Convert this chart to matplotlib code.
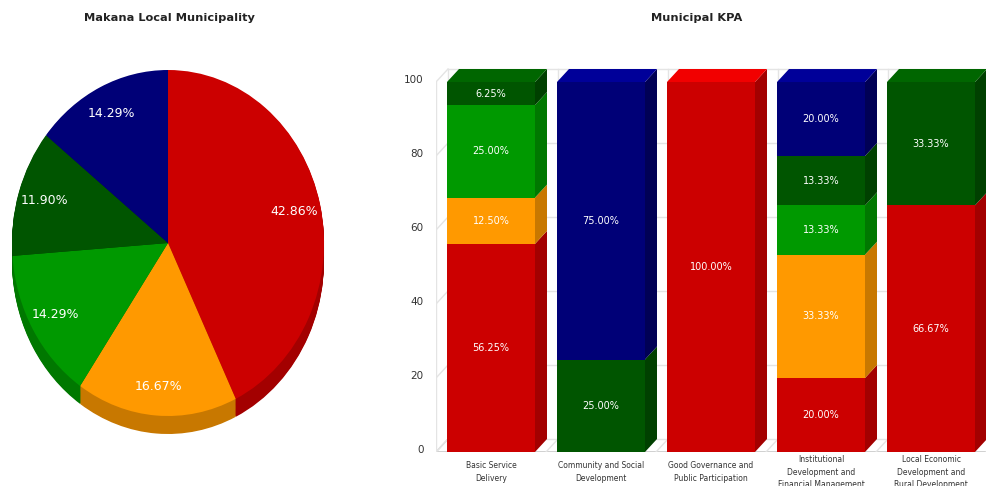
import numpy as np
import matplotlib
matplotlib.use("Agg")
import matplotlib.pyplot as plt
import matplotlib.transforms as mtransforms
from matplotlib.patches import Polygon

plt.rcParams['font.family'] = ['DejaVu Sans']

## pie: overall KPA status for Makana
pie_values = [42.86, 16.67, 14.29, 11.90, 14.29]

## stacked bars: status share per KPA (bottom -> top)
kpa_names = ["Basic Service\nDelivery",
             "Community and Social\nDevelopment",
             "Good Governance and\nPublic Participation",
             "Institutional\nDevelopment and\nFinancial Management",
             "Local Economic\nDevelopment and\nRural Development"]
red_vals    = [56.25, 0.00, 100.00, 20.00, 66.67]
orange_vals = [12.50, 0.00, 0.00, 33.33, 0.00]
green_vals  = [25.00, 0.00, 0.00, 13.33, 0.00]
dkgreen_vals = [6.25, 25.00, 0.00, 13.33, 33.33]
blue_vals   = [0.00, 75.00, 0.00, 20.00, 0.00]
y_ticks = [0, 20, 40, 60, 80, 100]

front_cols = ['#cc0000', '#ff9900', '#009900', '#005500', '#000077']
side_cols  = ['#a30000', '#c87800', '#007800', '#004000', '#000055']
top_cols   = ['#f20000', '#ffad33', '#00b000', '#006600', '#000099']

W, H = 987, 486
fig = plt.figure(figsize=(W/100, H/100), dpi=100)

def px_axes(l, t, r, b):
    return fig.add_axes([l/W, 1-b/H, (r-l)/W, (b-t)/H])

#------------------------------------------------------------------
## pie, drawn as a slightly squashed disc with a dark rim underneath
ax1 = px_axes(2, 60, 334, 446)
cx, cy, rx, ry = 168, 243, 156, 173
depth = 18/ry
nsteps = 20
for k in range(nsteps, 0, -1):
    off = depth*k/nsteps
    ax1.pie(pie_values, colors=side_cols, startangle=90, counterclock=False,
            center=(0, -off), radius=1, wedgeprops=dict(linewidth=0))
wedges, texts, autotexts = ax1.pie(pie_values, colors=front_cols, startangle=90,
                                   counterclock=False, center=(0, 0), radius=1,
                                   autopct='%.2f%%', pctdistance=0.83,
                                   wedgeprops=dict(linewidth=0),
                                   textprops=dict(color='white', fontsize=9))
ax1.set_aspect('auto')
ax1.set_xlim((2-cx)/rx, (334-cx)/rx)
ax1.set_ylim(-(446-cy)/ry, (cy-60)/ry)
ax1.axis('off')

fig.text(169/W, 1-18/H, "Makana Local Municipality", ha='center', va='center',
         fontsize=8.2, fontweight='bold', color='#222222')

#------------------------------------------------------------------
## 3d-looking stacked columns
ax2 = px_axes(436, 60, 1000, 452)
xscale = 110.0   # px per category
yscale = 3.7     # px per percent
DX = 12/xscale
DY = 13/yscale
ncat = len(kpa_names)
ax2.set_xlim(-0.5, -0.5 + 564/xscale)
ax2.set_ylim(0, 392/yscale)
for s in ax2.spines.values():
    s.set_visible(False)
ax2.set_xticks([])

grid_c = '#e4e4e4'
x0 = -0.5
x1 = ncat - 0.5
for v in y_ticks:
    c = '#c8c8c8' if v == 0 else grid_c
    ax2.plot([x0 + DX, x1 + DX], [v + DY, v + DY], color=grid_c, lw=1, zorder=1)
    ax2.plot([x0, x0 + DX], [v, v + DY], color=c, lw=1, zorder=1)
ax2.plot([x0, x1], [0, 0], color='#c8c8c8', lw=1.2, zorder=1)
ax2.plot([x0, x0], [0, 100], color=grid_c, lw=1, zorder=1)
for k in range(ncat + 1):
    xb = k - 0.5
    ax2.plot([xb + DX, xb + DX], [DY, 100 + DY], color=grid_c, lw=1, zorder=1)
    ax2.plot([xb, xb + DX], [0, DY], color=grid_c, lw=1, zorder=1)

series = [red_vals, orange_vals, green_vals, dkgreen_vals, blue_vals]
bw = 0.8
xs = np.arange(ncat)
bottom = np.zeros(ncat)
tops = np.zeros(ncat)
top_idx = [0]*ncat
for si, vals in enumerate(series):
    vals = np.array(vals)
    ax2.bar(xs, vals, bottom=bottom, width=bw, color=front_cols[si],
            linewidth=0, zorder=3)
    for i in range(ncat):
        if vals[i] <= 0:
            continue
        b = bottom[i]
        t = b + vals[i]
        xr = xs[i] + bw/2
        ax2.add_patch(Polygon([(xr, b), (xr + DX, b + DY), (xr + DX, t + DY), (xr, t)],
                              closed=True, facecolor=side_cols[si], lw=0, zorder=3))
        ax2.text(xs[i], b + vals[i]/2, "%.2f%%" % vals[i], ha='center', va='center',
                 color='white', fontsize=7, zorder=5)
        tops[i] = t
        top_idx[i] = si
    bottom = bottom + vals

for i in range(ncat):
    xl = xs[i] - bw/2
    xr = xs[i] + bw/2
    t = tops[i]
    ax2.add_patch(Polygon([(xl, t), (xl + DX, t + DY), (xr + DX, t + DY), (xr, t)],
                          closed=True, facecolor=top_cols[top_idx[i]], lw=0, zorder=3))

ax2.set_yticks(y_ticks)
ax2.set_yticklabels([str(v) for v in y_ticks])
ax2.tick_params(axis='y', length=0, pad=9, labelsize=7.5, labelcolor='#333333')
shift = mtransforms.ScaledTranslation(0, 3/100, fig.dpi_scale_trans)
for lab in ax2.get_yticklabels():
    lab.set_transform(lab.get_transform() + shift)

for i, name in enumerate(kpa_names):
    ax2.text(xs[i], -20/yscale, name, ha='center', va='center', fontsize=5.5,
             color='#333333', linespacing=1.45, clip_on=False)

fig.text(697/W, 1-18/H, "Municipal KPA", ha='center', va='center',
         fontsize=8.2, fontweight='bold', color='#222222')

plt.savefig("out.png", dpi=100)
